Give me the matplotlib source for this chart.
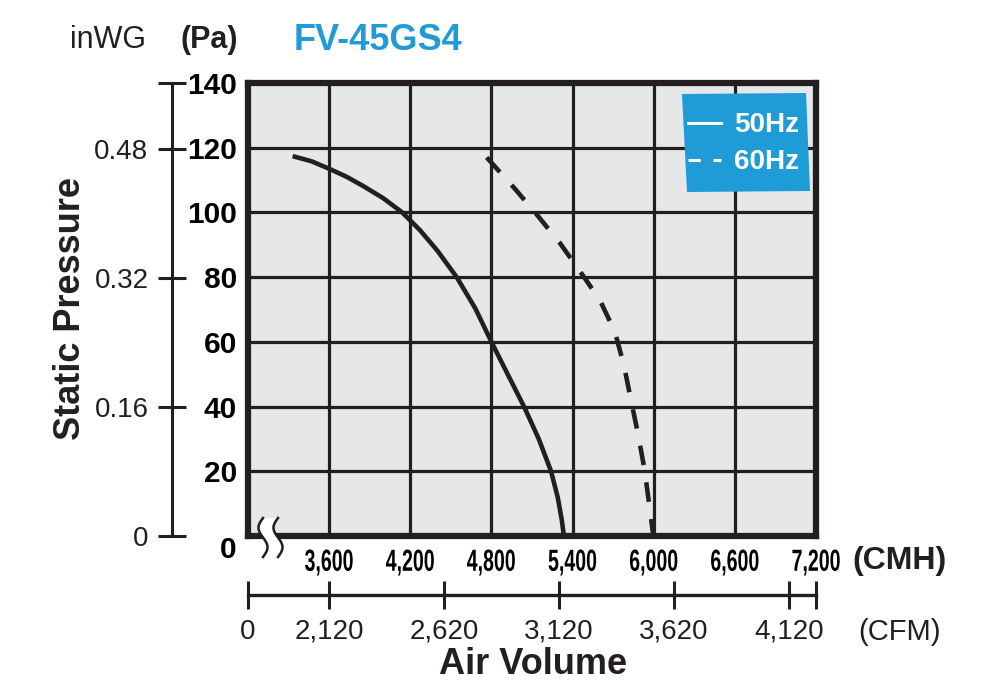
import numpy as np
import matplotlib.pyplot as plt
from matplotlib.lines import Line2D
from matplotlib.patches import Polygon
from matplotlib.patheffects import AbstractPathEffect
from matplotlib.transforms import Affine2D, IdentityTransform

# fan curve FV-45GS4, air volume in CMH, static pressure in Pa
cmh_50 = [3330, 3470, 3600, 3730, 3850, 4000, 4140, 4270, 4400, 4543, 4680, 4800,
          4920, 5041, 5150, 5241, 5290, 5320, 5336]
pa_50 = [117.4, 115.8, 113.5, 111.0, 108.2, 104.4, 100.0, 94.6, 88.2, 80.0, 70.4, 60.0,
         50.0, 40.0, 30.0, 20.0, 12.0, 5.0, 0.0]

cmh_60 = [4765, 4974, 5140, 5307, 5455, 5602, 5713, 5780, 5832, 5884, 5931, 5966, 5997]
pa_60 = [117.0, 107.3, 99.1, 90.5, 81.8, 72.9, 63.1, 52.7, 42.0, 31.5, 20.8, 10.0, 0.0]

cmh_ticks = [3600, 4200, 4800, 5400, 6000, 6600, 7200]
pa_ticks = [0, 20, 40, 60, 80, 100, 120, 140]
inwg_ticks = [0, 0.16, 0.32, 0.48]
cfm_ticks = [0, 2120, 2620, 3120, 3620, 4120]

CMH_MIN, CMH_MAX = 3000, 7200
PA_MAX = 140
CFM_TO_CMH = 1.699
PA_PER_INWG = 249.09

INK = '#231f20'
BLUE = '#1f9bd7'
W, H = 1000, 694

plt.rcParams['font.family'] = ['Liberation Sans', 'DejaVu Sans']


class Condense(AbstractPathEffect):
    """Squeeze glyphs horizontally about their centre (condensed face look)."""

    def __init__(self, sx):
        super().__init__()
        self.sx = sx

    def draw_path(self, renderer, gc, tpath, affine, rgbFace=None):
        ext = tpath.get_extents(affine)
        cx = 0.5 * (ext.x0 + ext.x1)
        squeeze = Affine2D().translate(-cx, 0).scale(self.sx, 1).translate(cx, 0)
        renderer.draw_path(gc, tpath, affine + squeeze, rgbFace)


def fx(x):
    return x / W


def fy(y):
    return 1 - y / H


def px(x, y):
    # pixel from top-left -> display coords
    return x, H - y


fig = plt.figure(figsize=(10, 6.94), dpi=100)

left, right, top, bottom = 248, 816, 83, 536
ax = fig.add_axes([fx(left), fy(bottom), (right - left) / W, (bottom - top) / H])
ax.set_facecolor('#e6e7e8')
ax.set_xlim(CMH_MIN, CMH_MAX)
ax.set_ylim(0, PA_MAX)

ax.set_xticks(cmh_ticks, ['{:,}'.format(v) for v in cmh_ticks])
ax.set_yticks(pa_ticks, [str(v) for v in pa_ticks])
ax.tick_params(axis='both', length=0)
ax.tick_params(axis='x', pad=8.5, labelsize=22)
ax.tick_params(axis='y', pad=8, labelsize=21.5)
for lab in ax.get_xticklabels():
    lab.set_fontweight('bold')
    lab.set_path_effects([Condense(0.64)])
for lab in ax.get_yticklabels():
    lab.set_fontweight('bold')
ax.get_yticklabels()[0].set_va('top')

ax.grid(True, color=INK, lw=2.3)
ax.set_axisbelow(True)
for sp in ax.spines.values():
    sp.set_linewidth(4.5)
    sp.set_color(INK)
    sp.set_zorder(3)

ax.plot(cmh_50, pa_50, color=INK, lw=3.3, solid_capstyle='butt',
        solid_joinstyle='round', zorder=4)
ax.plot(cmh_60, pa_60, color=INK, lw=3.3, ls=(0, (4.3, 3.8)), dash_capstyle='butt',
        zorder=4)

# axis break marks at the lower left corner
s = np.linspace(0, 1, 60)
by = 518 + 39 * s
bx1 = 263 - 4.5 * np.sin(2 * np.pi * s)
bx2 = bx1 + 15
gap = np.column_stack([np.concatenate([bx1, bx2[::-1]]),
                       H - np.concatenate([by, by[::-1]])])
fig.add_artist(Polygon(gap, closed=True, facecolor='white', edgecolor='none',
                       transform=IdentityTransform(), zorder=5))
for bx in (bx1, bx2):
    fig.add_artist(Line2D(bx, H - by, color=INK, lw=1.8,
                          transform=IdentityTransform(), zorder=6))

# legend on a slightly skewed blue card
card = [px(682, 94), px(806, 93), px(810, 191), px(687, 192)]
ax.add_patch(Polygon(card, closed=True, facecolor=BLUE, edgecolor='none',
                     transform=IdentityTransform(), clip_on=False, zorder=6))
handles = [Line2D([], [], color='white', lw=2.2),
           Line2D([], [], color='white', lw=2.2, ls=(0, (4.0, 4.2)))]
leg = ax.legend(handles, ['50Hz', '60Hz'], loc='upper left',
                bbox_to_anchor=(fx(688), fy(112.5)), bbox_transform=fig.transFigure,
                frameon=False, borderpad=0, borderaxespad=0, handlelength=1.2,
                handletextpad=0.45, labelspacing=0.39,
                prop={'weight': 'bold', 'size': 20}, labelcolor='white')
leg.set_zorder(7)

# inWG scale on the far left
ax_in = fig.add_axes([fx(171.7), fy(bottom), 1e-4, (bottom - top) / H])
ax_in.set_ylim(0, PA_MAX)
ax_in.patch.set_visible(False)
ax_in.xaxis.set_visible(False)
for name in ('top', 'right', 'bottom'):
    ax_in.spines[name].set_visible(False)
ax_in.spines['left'].set_linewidth(2.2)
ax_in.spines['left'].set_color(INK)
ax_in.set_yticks([v * PA_PER_INWG for v in inwg_ticks] + [PA_MAX],
                 ['{:g}'.format(v) for v in inwg_ticks] + [''])
ax_in.tick_params(axis='y', direction='inout', length=19.5, width=2.2,
                  color=INK, labelsize=20, labelcolor=INK, pad=7)

# CFM scale below the chart
cfm_y = 594.5
ax_cfm = fig.add_axes([fx(left), fy(cfm_y), (right - left) / W, 1e-4])
ax_cfm.set_xlim(CMH_MIN, CMH_MAX)
ax_cfm.patch.set_visible(False)
ax_cfm.yaxis.set_visible(False)
for name in ('top', 'right', 'left'):
    ax_cfm.spines[name].set_visible(False)
ax_cfm.spines['bottom'].set_linewidth(2.4)
ax_cfm.spines['bottom'].set_color(INK)
cfm_pos = [CMH_MIN if v == 0 else v * CFM_TO_CMH for v in cfm_ticks] + [CMH_MAX]
ax_cfm.set_xticks(cfm_pos, ['{:,}'.format(v) for v in cfm_ticks] + [''])
ax_cfm.tick_params(axis='x', direction='inout', length=20, width=2.2,
                   color=INK, labelsize=20, labelcolor=INK, pad=7.5)

# titles and unit labels
fig.text(fx(107.5), fy(40), 'inWG', fontsize=22, color=INK, ha='center', va='center')
fig.text(fx(209), fy(40), '(Pa)', fontsize=22, fontweight='bold', color=INK,
         ha='center', va='center')
fig.text(fx(377.5), fy(41), 'FV-45GS4', fontsize=26, fontweight='bold', color=BLUE,
         ha='center', va='center')
fig.text(fx(899), fy(561.5), '(CMH)', fontsize=23, fontweight='bold', color=INK,
         ha='center', va='center')
fig.text(fx(899), fy(631.5), '(CFM)', fontsize=21, color=INK, ha='center', va='center')
fig.text(fx(533), fy(664), 'Air Volume', fontsize=26, fontweight='bold', color=INK,
         ha='center', va='center')
fig.text(fx(70), fy(309), 'Static Pressure', fontsize=26, fontweight='bold', color=INK,
         ha='center', va='center', rotation=90)

fig.savefig('out.png', dpi=100)
